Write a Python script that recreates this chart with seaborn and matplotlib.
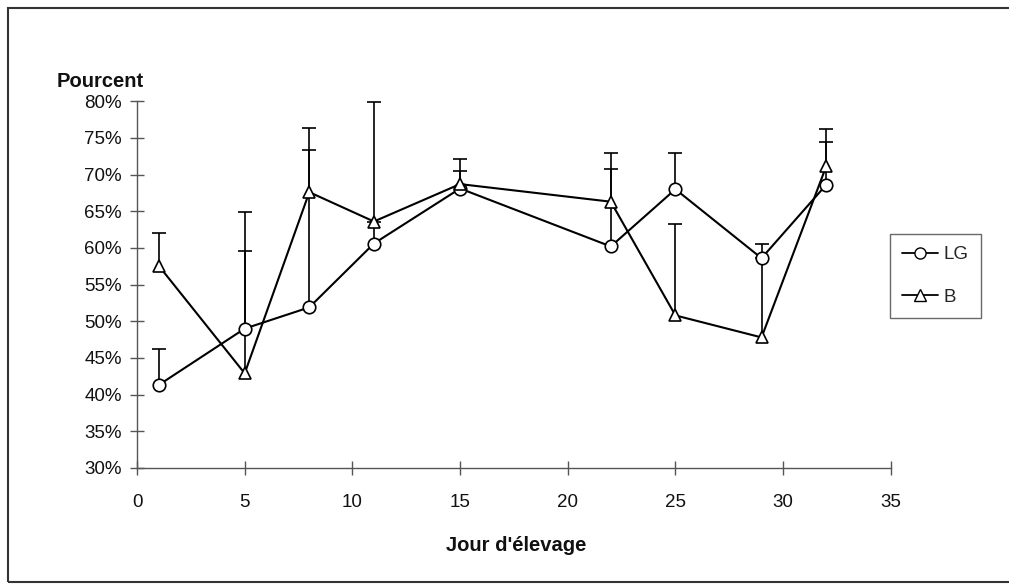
import numpy as np
import pandas as pd
import matplotlib
matplotlib.use("Agg")
import matplotlib.pyplot as plt
from matplotlib.ticker import PercentFormatter, MultipleLocator
from matplotlib.lines import Line2D
from matplotlib.patches import Rectangle
import seaborn as sns

# Jours d'élevage et pourcentages moyens par lot
jours = [1, 5, 8, 11, 15, 22, 25, 29, 32]
lg_pct = [41.3, 49.0, 51.9, 60.6, 68.1, 60.2, 68.0, 58.6, 68.6]
lg_haut = [46.2, 59.6, 73.4, 79.9, 70.5, 73.0, 72.9, 60.6, 76.2]
b_pct = [57.6, 42.9, 67.6, 63.6, 68.7, 66.3, 50.8, 47.8, 71.1]
b_haut = [62.0, 64.9, 76.4, 63.6, 72.1, 70.7, 63.3, 58.6, 74.5]
series = ["LG", "B"]

sns.set_theme(style="white")
plt.rcParams["font.family"] = ["Liberation Sans", "DejaVu Sans"]

df = pd.DataFrame({
    "jour": jours * 2,
    "pct": lg_pct + b_pct,
    "serie": ["LG"] * len(jours) + ["B"] * len(jours),
})

fig = plt.figure(figsize=(10.09, 5.85), dpi=100)
ax = fig.add_axes([0.1358, 0.2, 0.747, 0.627])

# barres d'erreur (partie supérieure seulement, sans trait bas)
for vals, haut in [(lg_pct, lg_haut), (b_pct, b_haut)]:
    v = np.array(vals)
    up = np.array(haut) - v
    _, caps, _ = ax.errorbar(jours, v, yerr=[np.zeros_like(v), up], fmt="none",
                             ecolor="black", elinewidth=1.2, capsize=5,
                             capthick=1.2, zorder=2)
    caps[0].set_visible(False)

sns.lineplot(data=df, x="jour", y="pct", style="serie", hue="serie",
             palette={"LG": "black", "B": "black"},
             markers={"LG": "o", "B": "^"}, dashes=False,
             markersize=9, markerfacecolor="white", markeredgecolor="black",
             markeredgewidth=1.2, linewidth=1.5, legend=False, ax=ax, zorder=3)

ax.set_xlim(0, 35)
ax.set_ylim(30, 80)
ax.xaxis.set_major_locator(MultipleLocator(5))
ax.yaxis.set_major_locator(MultipleLocator(5))
ax.yaxis.set_major_formatter(PercentFormatter(decimals=0))
ax.set_xlabel("")
ax.set_ylabel("")

for s in ["top", "right"]:
    ax.spines[s].set_visible(False)
for s in ["left", "bottom"]:
    ax.spines[s].set_color("#555555")
    ax.spines[s].set_linewidth(1.0)
ax.tick_params(axis="both", which="major", direction="inout", length=10,
               width=1.0, color="#555555", labelsize=13.5, labelcolor="#111111",
               bottom=True, left=True)
ax.tick_params(axis="x", pad=14)
ax.tick_params(axis="y", pad=6)

fig.text(0.056, 0.86, "Pourcent", fontsize=14.5, fontweight="bold",
         color="#111111", ha="left", va="center")
fig.text(0.512, 0.068, "Jour d'élevage", fontsize=14.5, fontweight="bold",
         color="#111111", ha="center", va="center")

handles = [
    Line2D([], [], color="black", lw=1.3, marker="o", markersize=8,
           markerfacecolor="white", markeredgecolor="black"),
    Line2D([], [], color="black", lw=1.3, marker="^", markersize=8,
           markerfacecolor="white", markeredgecolor="black"),
]
leg = fig.legend(handles, series, loc="upper left", bbox_to_anchor=(0.882, 0.6),
                 frameon=True, fancybox=False, edgecolor="#444444", fontsize=13.5,
                 handlelength=1.9, handletextpad=0.3, labelspacing=1.35,
                 borderpad=0.65, borderaxespad=0)
leg.get_frame().set_linewidth(1.0)

# cadre extérieur de la figure
fig.patches.append(Rectangle((0.008, 0.005), 1.1, 0.982, transform=fig.transFigure,
                             fill=False, edgecolor="#333333", linewidth=1.5))

fig.savefig("out.png", dpi=100, facecolor="white")
